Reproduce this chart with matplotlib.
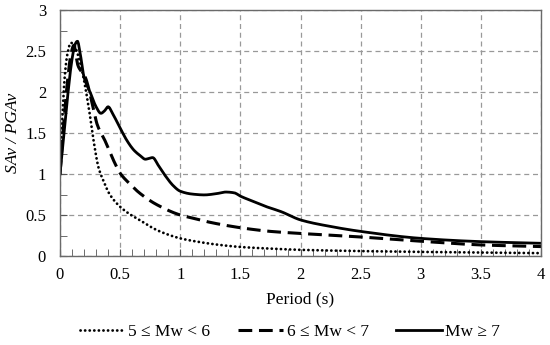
import matplotlib
matplotlib.use("Agg")
import matplotlib.pyplot as plt
from matplotlib.ticker import MultipleLocator
import numpy as np

# Mw 5-6 (dotted)
period_m5 = [0.0, 0.02, 0.04, 0.06, 0.09, 0.115, 0.15, 0.185, 0.24, 0.28, 0.32, 0.36, 0.41, 0.5, 0.58, 0.66, 0.8, 0.9, 1.0, 1.12, 1.3, 1.5, 1.75, 2.0, 2.5, 3.0, 3.5, 4.0]
sa_m5 = [1.0, 1.7, 2.2, 2.45, 2.6, 2.58, 2.45, 2.25, 1.8, 1.4, 1.08, 0.92, 0.76, 0.6, 0.51, 0.44, 0.32, 0.26, 0.215, 0.18, 0.14, 0.11, 0.09, 0.075, 0.06, 0.05, 0.042, 0.035]

# Mw 6-7 (dashed)
period_m6 = [0.0, 0.03, 0.06, 0.09, 0.115, 0.15, 0.21, 0.28, 0.31, 0.37, 0.46, 0.5, 0.58, 0.66, 0.8, 1.0, 1.11, 1.25, 1.5, 1.75, 2.0, 2.5, 3.0, 3.5, 4.0]
sa_m6 = [1.0, 1.6, 2.1, 2.45, 2.57, 2.32, 2.18, 1.78, 1.6, 1.42, 1.12, 1.01, 0.88, 0.77, 0.63, 0.5, 0.46, 0.41, 0.345, 0.3, 0.275, 0.232, 0.18, 0.135, 0.115]

# Mw >= 7 (solid)
period_m7 = [0.0, 0.03, 0.06, 0.1, 0.125, 0.145, 0.17, 0.2, 0.25, 0.3, 0.34, 0.37, 0.4, 0.44, 0.5, 0.56, 0.615, 0.67, 0.71, 0.74, 0.77, 0.82, 0.88, 0.94, 1.0, 1.1, 1.2, 1.3, 1.38, 1.45, 1.5, 1.6, 1.7, 1.84, 2.0, 2.25, 2.5, 3.0, 3.5, 4.0]
sa_m7 = [1.0, 1.45, 1.9, 2.4, 2.58, 2.62, 2.45, 2.18, 2.0, 1.82, 1.74, 1.77, 1.82, 1.73, 1.56, 1.4, 1.29, 1.22, 1.18, 1.19, 1.2, 1.1, 0.97, 0.86, 0.79, 0.755, 0.745, 0.76, 0.78, 0.77, 0.73, 0.67, 0.61, 0.54, 0.44, 0.36, 0.3, 0.215, 0.175, 0.155]

labels = ["5 \u2264 Mw < 6", "6 \u2264 Mw < 7", "Mw \u2265 7"]
x_ticks = [0, 0.5, 1, 1.5, 2, 2.5, 3, 3.5, 4]
y_ticks = [0, 0.5, 1, 1.5, 2, 2.5, 3]

plt.rcParams['font.family'] = ['Liberation Serif', 'DejaVu Serif']

fig = plt.figure(figsize=(5.5, 3.45), dpi=100)
ax = fig.add_axes([60/550, 1-256/345, 481/550, 246/345])

def smooth(xs, ys, n=600):
    xs = np.asarray(xs, float); ys = np.asarray(ys, float)
    xx = np.linspace(xs[0], xs[-1], n)
    h = np.diff(xs); d = np.diff(ys) / h
    m = np.zeros_like(ys)
    m[0] = d[0]; m[-1] = d[-1]
    for i in range(1, len(xs)-1):
        if d[i-1]*d[i] <= 0:
            m[i] = 0
        else:
            w1 = 2*h[i] + h[i-1]; w2 = h[i] + 2*h[i-1]
            m[i] = (w1 + w2) / (w1/d[i-1] + w2/d[i])
    idx = np.clip(np.searchsorted(xs, xx) - 1, 0, len(xs)-2)
    t = (xx - xs[idx]) / h[idx]
    h00 = 2*t**3 - 3*t**2 + 1; h10 = t**3 - 2*t**2 + t
    h01 = -2*t**3 + 3*t**2; h11 = t**3 - t**2
    yy = h00*ys[idx] + h10*h[idx]*m[idx] + h01*ys[idx+1] + h11*h[idx]*m[idx+1]
    return xx, yy

x5, y5 = smooth(period_m5, sa_m5)
x6, y6 = smooth(period_m6, sa_m6)
x7, y7 = smooth(period_m7, sa_m7)

ax.plot(x5, y5, color='black', lw=2, linestyle=(0, (0.05, 1.6)), dash_capstyle='round', label=labels[0])
ax.plot(x6, y6, color='black', lw=2.2, linestyle=(0, (4.5, 2.2)), label=labels[1])
ax.plot(x7, y7, color='black', lw=2, linestyle='-', label=labels[2])

ax.set_xlim(0, 4)
ax.set_ylim(0, 3)
ax.set_xticks(x_ticks)
ax.set_xticklabels([f"{v:g}" for v in x_ticks])
ax.set_yticks(y_ticks)
ax.set_yticklabels([f"{v:g}" for v in y_ticks])
ax.xaxis.set_minor_locator(MultipleLocator(0.1))
ax.yaxis.set_minor_locator(MultipleLocator(0.25))
ax.tick_params(axis='both', which='both', direction='in', labelsize=12, colors='#555555', labelcolor='black')
ax.tick_params(axis='x', which='major', length=5, pad=8)
ax.tick_params(axis='x', which='minor', length=5)
ax.tick_params(axis='y', which='major', length=5, pad=10)
ax.tick_params(axis='y', which='minor', length=5)
ax.grid(True, which='major', color='#999999', linestyle=(0, (4, 3)), lw=0.9)
ax.set_axisbelow(True)
for s in ax.spines.values():
    s.set_color('#6a6a6a')
    s.set_linewidth(1.0)

ax.set_xlabel("Period (s)", fontsize=12.5, labelpad=6)
ax.set_ylabel("SAv / PGAv", fontsize=12.5, style='italic', labelpad=3)

fig.legend(loc='lower center', bbox_to_anchor=(0.527, -0.03), ncol=3, frameon=False,
           fontsize=12.5, handlelength=2.6, columnspacing=1.6, handletextpad=0.2)

fig.savefig("out.png", dpi=100)
